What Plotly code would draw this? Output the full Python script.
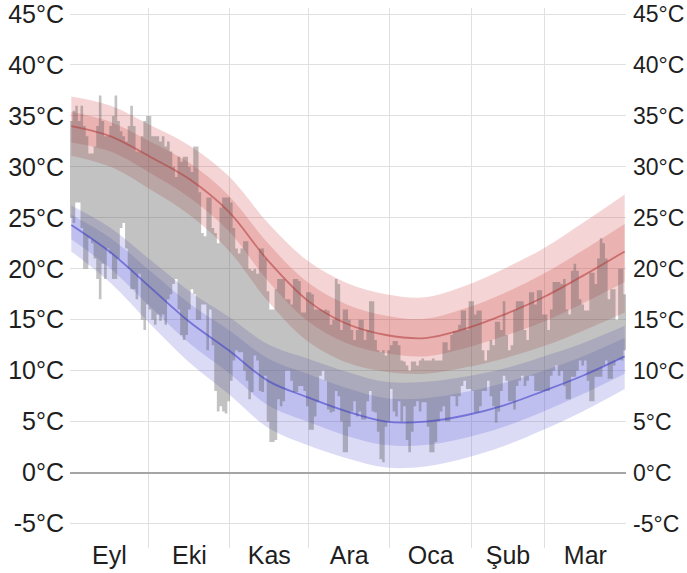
import plotly.graph_objects as go

# ---------------- data ----------------
months = ["Eyl", "Eki", "Kas", "Ara", "Oca", "Şub", "Mar"]
month_days = [30, 31, 30, 31, 31, 28, 31]
y_ticks = [-5, 0, 5, 10, 15, 20, 25, 30, 35, 40, 45]
y_labels = [f"{v}°C" for v in y_ticks]

# daily observed highs / lows (°C), one per day from 1 Sep to 31 Mar
high_sep = [34.5, 35.5, 36.0, 34.5, 36.0, 34.0, 33.0, 31.3, 31.3, 32.0,
            34.0, 37.0, 34.5, 33.0, 33.0, 34.0, 35.0, 37.0, 34.5, 33.5,
            33.0, 32.5, 34.0, 36.0, 34.0, 31.5, 31.5, 33.0, 34.5, 35.0]
low_sep = [25.0, 24.5, 26.5, 26.5, 24.0, 20.0, 20.0, 23.0, 22.5, 21.0,
           19.0, 17.0, 20.5, 19.0, 22.0, 21.5, 19.0, 19.0, 21.0, 24.0,
           24.5, 22.0, 20.0, 18.0, 18.0, 17.0, 19.5, 15.0, 14.0, 16.5]
high_oct = [35.0, 33.0, 33.0, 33.0, 32.5, 33.0, 32.0, 32.5, 31.5, 30.0,
            29.0, 31.0, 30.5, 31.0, 31.0, 30.0, 29.5, 32.0, 32.0, 27.5,
            23.5, 23.2, 27.0, 27.0, 24.0, 23.5, 22.5, 26.0, 27.0, 27.0,
            27.0]
low_oct = [16.0, 15.0, 14.5, 15.5, 14.9, 15.5, 14.5, 17.0, 17.5, 18.5,
           19.0, 16.0, 13.5, 13.0, 13.5, 16.0, 18.0, 17.5, 15.0, 15.0,
           16.5, 16.5, 12.0, 16.0, 12.5, 8.0, 6.0, 6.5, 6.0, 5.8,
           7.0]
high_nov = [26.5, 24.0, 22.0, 21.5, 22.0, 22.7, 22.7, 20.0, 19.8, 20.0,
            19.5, 22.0, 22.0, 21.0, 17.8, 16.0, 16.0, 18.0, 19.0, 19.0,
            19.0, 17.0, 17.0, 16.5, 19.0, 19.0, 18.8, 15.7, 15.7, 17.7]
low_nov = [9.0, 11.0, 12.0, 11.8, 11.8, 10.0, 9.0, 7.2, 7.9, 11.5,
           11.0, 8.0, 7.9, 9.5, 5.0, 3.0, 3.0, 3.2, 7.2, 6.5,
           7.0, 10.0, 10.0, 9.0, 7.9, 7.9, 8.5, 8.5, 8.0, 6.5]
high_dec = [17.7, 17.5, 16.0, 16.0, 16.0, 15.9, 16.0, 15.9, 14.5, 15.0,
            19.0, 18.5, 14.0, 16.0, 16.0, 15.0, 14.0, 13.0, 14.0, 15.0,
            15.0, 13.0, 14.0, 16.8, 16.8, 13.0, 12.0, 11.8, 12.0, 11.5,
            12.0]
low_dec = [4.2, 4.2, 5.5, 6.9, 9.5, 10.0, 9.0, 6.2, 5.9, 6.0,
           8.0, 7.5, 5.0, 2.0, 2.0, 4.5, 6.0, 7.0, 5.5, 6.0,
           5.2, 5.2, 7.0, 8.0, 6.0, 5.9, 4.0, 1.3, 1.0, 4.5,
           5.0]
high_jan = [12.5, 12.9, 12.9, 12.5, 11.0, 10.9, 10.5, 10.0, 10.9, 10.9,
            10.5, 11.0, 11.2, 11.0, 11.0, 11.0, 11.2, 11.0, 11.0, 11.0,
            12.8, 12.8, 12.0, 13.5, 13.9, 13.9, 14.5, 15.9, 15.9, 14.0,
            16.8]
low_jan = [8.2, 6.0, 5.5, 7.0, 5.0, 6.5, 3.2, 2.0, 4.0, 6.5,
           7.0, 6.0, 6.9, 6.9, 4.5, 2.0, 2.0, 3.0, 5.0, 6.0,
           6.5, 5.0, 5.0, 7.5, 7.5, 6.5, 7.5, 8.5, 9.0, 8.2,
           8.2]
high_feb = [16.8, 15.5, 15.9, 15.9, 12.0, 11.0, 12.0, 13.0, 12.5, 14.8,
            14.8, 14.0, 16.8, 13.5, 12.0, 12.5, 15.9, 16.8, 16.8, 16.8,
            14.0, 13.0, 17.7, 17.7, 16.5, 17.9, 17.9, 15.5]
low_feb = [8.0, 5.9, 5.9, 6.5, 8.0, 8.0, 9.0, 7.5, 6.5, 4.9,
           6.0, 8.0, 9.5, 9.0, 7.0, 7.0, 6.2, 8.5, 9.0, 9.5,
           8.5, 9.0, 9.5, 9.5, 8.0, 8.0, 8.0, 8.0]
high_mar = [15.5, 14.0, 16.0, 18.7, 18.7, 18.7, 18.5, 19.0, 16.0, 15.5,
            19.8, 20.5, 19.8, 17.0, 16.5, 15.9, 15.9, 19.6, 19.6, 18.5,
            21.0, 23.0, 22.5, 21.0, 17.0, 18.0, 18.0, 15.0, 20.0, 20.0,
            17.5]
low_mar = [8.0, 8.0, 9.5, 10.0, 10.5, 9.5, 10.0, 8.5, 7.2, 7.2,
           9.4, 9.4, 10.0, 11.0, 10.5, 11.0, 9.0, 7.0, 7.0, 9.4,
           9.4, 9.4, 10.5, 11.0, 9.2, 9.2, 10.5, 11.1, 11.1, 11.0,
           12.0]

# climatology, sampled every ~15 days (day index from 1 Sep)
band_days = [0, 15, 30, 45, 60, 75, 90, 105, 120, 135, 150, 165, 180, 195, 211]
high_mean = [34.0, 33.0, 31.0, 28.8, 25.6, 20.8, 16.9, 14.6, 13.5, 13.2, 14.1, 15.5, 17.2, 19.3, 21.7]
high_p90 = [36.9, 36.0, 34.1, 32.1, 29.1, 24.5, 20.8, 18.6, 17.5, 17.2, 18.3, 20.0, 22.0, 24.5, 27.3]
high_p75 = [35.4, 34.4, 32.5, 30.4, 27.2, 22.5, 18.7, 16.5, 15.4, 15.1, 16.1, 17.6, 19.5, 21.8, 24.4]
high_p25 = [32.4, 31.5, 29.4, 27.0, 23.7, 18.8, 14.9, 12.7, 11.7, 11.4, 12.2, 13.4, 14.8, 16.6, 18.7]
high_p10 = [31.1, 30.0, 27.8, 25.3, 21.8, 16.8, 12.9, 10.8, 9.9, 9.7, 10.3, 11.2, 12.4, 13.9, 15.7]
low_mean = [24.3, 21.6, 18.2, 14.8, 12.0, 9.0, 7.4, 6.0, 5.0, 5.0, 5.6, 6.6, 8.0, 9.5, 11.4]
low_p90 = [26.2, 24.0, 20.9, 17.8, 15.3, 12.6, 11.2, 9.9, 8.9, 8.9, 9.4, 10.2, 11.4, 12.7, 14.4]
low_p75 = [25.3, 23.0, 19.8, 16.6, 14.0, 11.2, 9.7, 8.3, 7.3, 7.3, 7.9, 8.8, 10.0, 11.4, 13.2]
low_p25 = [22.9, 20.0, 16.3, 12.7, 9.8, 6.6, 5.0, 3.6, 2.7, 2.7, 3.4, 4.5, 6.0, 7.7, 9.7]
low_p10 = [21.7, 18.6, 14.6, 10.8, 7.7, 4.4, 2.7, 1.4, 0.5, 0.6, 1.4, 2.6, 4.2, 6.0, 8.2]

# ---------------- assemble ----------------
highs = high_sep + high_oct + high_nov + high_dec + high_jan + high_feb + high_mar
lows = low_sep + low_oct + low_nov + low_dec + low_jan + low_feb + low_mar
n_days = sum(month_days)

bounds = []
centers = []
acc = 0
for md in month_days:
    centers.append(acc + (md - 1) / 2)
    acc += md
    bounds.append(acc - 0.5)

# one rectangle per day (low -> high), all in a single filled path
rect_x, rect_y = [], []
for d, (lo, hi) in enumerate(zip(lows, highs)):
    rect_x += [d - 0.5, d + 0.5, d + 0.5, d - 0.5, d - 0.5, None]
    rect_y += [lo, lo, hi, hi, lo, None]

W, H = 687, 573
ML, MR, MT, MB = 70, 61, 8, 25

FONT = "Liberation Sans, Arial, Helvetica, sans-serif"
TXT = "#1e1e1e"
GRID = "rgb(224,224,224)"
FS = 25
FS_R = 23

fig = go.Figure()


def band(lo, hi, color):
    fig.add_trace(go.Scatter(x=band_days, y=lo, mode="lines", line=dict(width=0, shape="spline"),
                             hoverinfo="skip", showlegend=False))
    fig.add_trace(go.Scatter(x=band_days, y=hi, mode="lines", line=dict(width=0, shape="spline"),
                             fill="tonexty", fillcolor=color, hoverinfo="skip", showlegend=False))


RED = "rgba(205,60,60,0.22)"
BLUE = "rgba(90,90,215,0.22)"
band(high_p10, high_p90, RED)
band(high_p25, high_p75, RED)
band(low_p10, low_p90, BLUE)
band(low_p25, low_p75, BLUE)

# daily ranges (drawn above the bands, translucent)
fig.add_trace(go.Scatter(x=rect_x, y=rect_y, mode="lines", fill="toself",
                         fillcolor="rgba(80,81,80,0.35)", line=dict(width=0),
                         hoverinfo="skip", showlegend=False))

fig.add_trace(go.Scatter(x=band_days, y=high_mean, mode="lines",
                         line=dict(color="rgba(180,65,65,0.6)", width=1.8, shape="spline"),
                         hoverinfo="skip", showlegend=False))
fig.add_trace(go.Scatter(x=band_days, y=low_mean, mode="lines",
                         line=dict(color="rgba(65,65,200,0.6)", width=1.8, shape="spline"),
                         hoverinfo="skip", showlegend=False, yaxis="y2"))

yr = [45.59 - (H - MT - MB) / 10.19, 45.59]
fig.update_layout(
    width=W, height=H,
    margin=dict(l=ML, r=MR, t=MT, b=MB, autoexpand=False),
    paper_bgcolor="white", plot_bgcolor="white",
    showlegend=False,
    font=dict(family=FONT, size=FS, color=TXT),
    xaxis=dict(range=[-0.5, n_days - 0.5], tickmode="array", tickvals=centers, ticktext=months,
               showgrid=False, zeroline=False, ticks="", showline=False, automargin=False,
               tickfont=dict(family=FONT, size=FS, color=TXT), ticklabelstandoff=-10,
               ticklabeloverflow="allow",
               minor=dict(tickmode="array", tickvals=bounds, showgrid=True, gridcolor=GRID, gridwidth=1),
               layer="above traces"),
    yaxis=dict(range=yr, tickmode="array", tickvals=y_ticks, ticktext=y_labels,
               showgrid=True, gridcolor=GRID, gridwidth=1, automargin=False,
               zeroline=True, zerolinecolor="rgb(165,165,165)", zerolinewidth=1.5,
               ticks="", showline=False, tickfont=dict(family=FONT, size=FS, color=TXT),
               ticklabelstandoff=5, ticklabeloverflow="allow", layer="above traces"),
    yaxis2=dict(range=yr, overlaying="y", side="right", tickmode="array", tickvals=y_ticks,
                ticktext=y_labels, showgrid=False, zeroline=False, ticks="", showline=False,
                automargin=False, ticklabelstandoff=6, ticklabeloverflow="allow",
                tickfont=dict(family=FONT, size=FS_R, color=TXT), matches="y"),
)

fig.write_html("out.html", config={"displayModeBar": False, "staticPlot": False},
               post_script="document.body.style.margin='0px';")
